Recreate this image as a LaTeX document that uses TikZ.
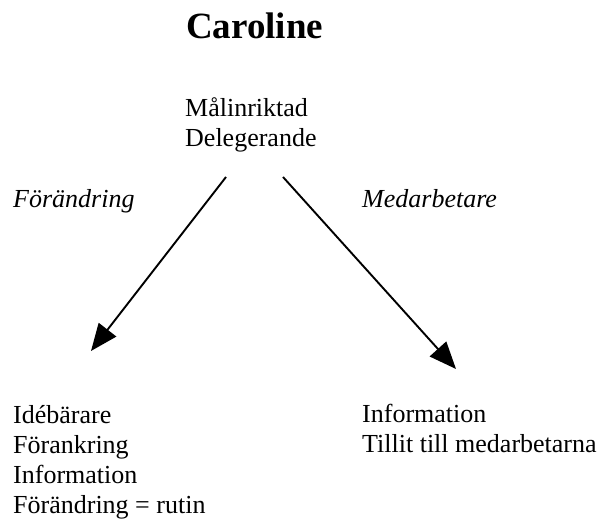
\documentclass[tikz,border=0pt]{standalone}
\usepackage{fontspec}
\setmainfont{Liberation Serif}
\usetikzlibrary{arrows.meta}

\tikzset{
  txt/.style={inner sep=0pt,anchor=base west,align=left,
    font=\fontsize{26}{30}\selectfont},
  ttl/.style={inner sep=0pt,anchor=base west,
    font=\fontsize{37}{40}\selectfont\bfseries},
  lbl/.style={txt,font=\fontsize{26}{30}\selectfont\itshape},
  pil/.style={line width=1.9pt,-{Triangle[length=27pt,width=22pt]}}
}

\begin{document}
\begin{tikzpicture}[x=1pt,y=-1pt]
\useasboundingbox (0,0) rectangle (603,521);
% base anchor = baseline of the last line
\node[ttl] (name) at (186,39) {Caroline};
\node[txt] (top) at (185,147) {Målinriktad\\Delegerande};
\node[lbl] (lab1) at (13,208) {Förändring};
\node[lbl] (lab2) at (362,208) {Medarbetare};
\node[txt] (left) at (13,513) {Idébärare\\Förankring\\Information\\Förändring = rutin};
\node[txt] (right) at (362,453) {Information\\Tillit till medarbetarna};
% arrows
\coordinate (ls) at (226,177);
\coordinate (le) at (91,351);
\coordinate (rs) at (283,177);
\coordinate (re) at (456,369);
\draw[pil] (ls)--(le);
\draw[pil] (rs)--(re);
\end{tikzpicture}
\end{document}
